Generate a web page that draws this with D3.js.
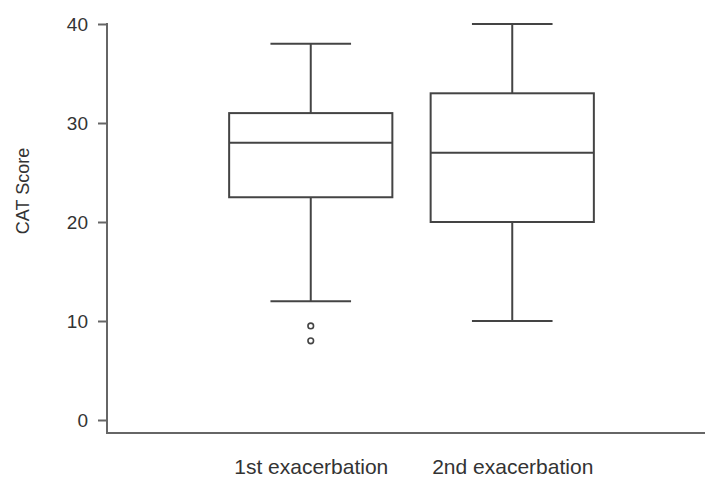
<!DOCTYPE html>
<html>
<head>
<meta charset="utf-8">
<script src="https://cdn.jsdelivr.net/npm/d3@7"></script>
<style>
  html, body { margin: 0; padding: 0; background: #fff; }
  svg { display: block; }
  text { font-family: "Liberation Sans", Arial, Helvetica, sans-serif; fill: #333; }
</style>
</head>
<body>
<svg id="chart" width="705" height="478"></svg>
<script>
const categories = ["1st exacerbation", "2nd exacerbation"];
const whiskerLow = [12, 10];
const q1 = [22.5, 20];
const median = [28, 27];
const q3 = [31, 33];
const whiskerHigh = [38, 40];
const outliers = [[9.5, 8], []];
const yTicks = [0, 10, 20, 30, 40];
const yTitle = "CAT Score";

const svg = d3.select("#chart");
const left = 107, right = 705, axisBottomY = 433;

const y = d3.scaleLinear().domain([0, 40]).range([420, 24]);
const x = d3.scalePoint().domain(categories).range([210, 613]).padding(0.5);
const step = x.step();
const boxW = step * 0.81;
const capW = step * 0.40;

const axisColor = "#666";
const lineColor = "#444";

// Y axis
const yAxis = svg.append("g")
  .attr("transform", `translate(${left},0)`)
  .call(d3.axisLeft(y).tickValues(yTicks).tickSize(9).tickPadding(10).tickFormat(d3.format("d")));
yAxis.select(".domain").remove();
yAxis.selectAll(".tick line").attr("stroke", axisColor).attr("stroke-width", 2);
yAxis.selectAll(".tick text").style("font-size", "19px").attr("fill", "#333");
svg.append("line")
  .attr("x1", left).attr("x2", left)
  .attr("y1", y(40) - 1).attr("y2", axisBottomY)
  .attr("stroke", axisColor).attr("stroke-width", 2);

// X axis
const xAxis = svg.append("g")
  .attr("transform", `translate(0,${axisBottomY})`)
  .call(d3.axisBottom(x).tickSize(0).tickPadding(26));
xAxis.select(".domain").remove();
xAxis.selectAll(".tick text").style("font-size", "21px").attr("fill", "#333");
svg.append("line")
  .attr("x1", left - 1).attr("x2", right)
  .attr("y1", axisBottomY).attr("y2", axisBottomY)
  .attr("stroke", axisColor).attr("stroke-width", 2);

// Y title
svg.append("text")
  .attr("transform", `translate(29,191) rotate(-90)`)
  .attr("text-anchor", "middle")
  .style("font-size", "18px")
  .text(yTitle);

// Boxes
const g = svg.append("g").attr("fill", "none").attr("stroke", lineColor).attr("stroke-width", 2);
categories.forEach((c, i) => {
  const cx = x(c);
  g.append("line").attr("x1", cx).attr("x2", cx).attr("y1", y(whiskerHigh[i])).attr("y2", y(q3[i]));
  g.append("line").attr("x1", cx).attr("x2", cx).attr("y1", y(q1[i])).attr("y2", y(whiskerLow[i]));
  g.append("line").attr("x1", cx - capW / 2).attr("x2", cx + capW / 2).attr("y1", y(whiskerHigh[i])).attr("y2", y(whiskerHigh[i]));
  g.append("line").attr("x1", cx - capW / 2).attr("x2", cx + capW / 2).attr("y1", y(whiskerLow[i])).attr("y2", y(whiskerLow[i]));
  g.append("rect").attr("x", cx - boxW / 2).attr("width", boxW)
    .attr("y", y(q3[i])).attr("height", y(q1[i]) - y(q3[i])).attr("fill", "#fff");
  g.append("line").attr("x1", cx - boxW / 2).attr("x2", cx + boxW / 2).attr("y1", y(median[i])).attr("y2", y(median[i]));
  outliers[i].forEach(v => {
    g.append("circle").attr("cx", cx).attr("cy", y(v)).attr("r", 2.8).attr("stroke-width", 1.6);
  });
});
</script>
</body>
</html>
